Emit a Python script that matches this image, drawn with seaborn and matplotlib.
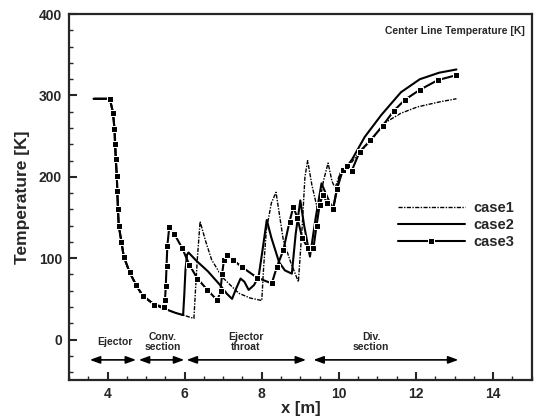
import matplotlib
matplotlib.use("Agg")
import matplotlib.pyplot as plt
import seaborn as sns
import pandas as pd

# ---------------- data ----------------
case1_x = [3.64, 4.06, 4.14, 4.18, 4.20, 4.22, 4.25, 4.27, 4.29, 4.36, 4.42, 4.57, 4.74, 4.91, 5.21, 5.47,
           5.75, 5.97, 6.10, 6.24, 6.28, 6.33, 6.40, 6.55, 6.70, 6.97, 7.40, 7.70, 8.00, 8.05, 8.12, 8.25,
           8.37, 8.56, 8.75, 8.95, 9.05, 9.12, 9.19, 9.30, 9.46, 9.60, 9.72, 9.82, 9.90, 10.00, 10.10,
           10.20, 10.50, 10.84, 11.18, 11.60, 12.04, 12.60, 13.05]
case1_y = [296, 296, 279, 259, 240, 220, 190, 160, 140, 120, 102, 83, 67, 54, 43, 38,
           33, 30, 28, 26, 60, 100, 145, 120, 98, 77, 57, 51, 48, 90, 135, 168,
           181, 122, 95, 71, 140, 200, 220, 190, 157, 195, 217, 195, 186, 200, 212,
           210, 228, 245, 266, 278, 286, 292, 296]

case2_x = [3.64, 4.06, 4.14, 4.18, 4.20, 4.22, 4.25, 4.27, 4.29, 4.36, 4.42, 4.57, 4.74, 4.91, 5.21, 5.47,
           5.75, 5.96, 5.99, 6.02, 6.06, 6.10, 6.30, 6.60, 6.90, 7.10, 7.23, 7.33, 7.45, 7.55, 7.66, 7.80,
           7.92, 8.02, 8.13, 8.25, 8.45, 8.60, 8.78, 8.88, 9.00, 9.10, 9.25, 9.40, 9.55, 9.70, 9.85, 9.95,
           10.05, 10.20, 10.35, 10.67, 11.10, 11.61, 12.10, 12.60, 13.05]
case2_y = [296, 296, 279, 259, 240, 220, 190, 160, 140, 120, 102, 83, 67, 54, 43, 38,
           33, 30, 55, 85, 104, 107, 97, 84, 68, 56, 50, 62, 75, 71, 61, 67,
           78, 110, 147, 125, 95, 85, 81, 130, 171, 140, 102, 150, 192, 175, 160, 185,
           205, 212, 222, 249, 276, 304, 320, 328, 332]

case3_x = [3.64, 4.06, 4.14, 4.18, 4.19, 4.21, 4.24, 4.25, 4.27, 4.29, 4.36, 4.42, 4.57, 4.74, 4.91, 5.21,
           5.47, 5.49, 5.51, 5.53, 5.55, 5.60, 5.73, 5.94, 6.12, 6.33, 6.59, 6.85, 6.93, 6.97, 7.02, 7.10,
           7.25, 7.49, 7.88, 8.26, 8.39, 8.56, 8.72, 8.82, 8.92, 9.05, 9.20, 9.34, 9.42, 9.50, 9.58, 9.70,
           9.85, 9.95, 10.10, 10.20, 10.33, 10.54, 10.82, 11.14, 11.42, 11.72, 12.10, 12.57, 13.05]
case3_y = [296, 296, 279, 259, 240, 222, 201, 183, 160, 140, 120, 102, 83, 67, 54, 43,
           40, 48, 66, 90, 115, 138, 130, 112, 92, 75, 61, 48, 60, 80, 98, 104,
           98, 89, 76, 69, 89, 110, 145, 163, 150, 125, 112, 112, 140, 165, 178, 168,
           161, 185, 208, 213, 207, 231, 245, 263, 281, 295, 307, 319, 325]

case_labels = ["case1", "case2", "case3"]

section_labels = ["Ejector", "Conv.\nsection", "Ejector\nthroat", "Div.\nsection"]
section_start = [3.54, 4.81, 6.05, 9.34]
section_end = [4.74, 5.99, 9.15, 13.10]
section_text_x = [4.18, 5.42, 7.58, 10.84]

# ---------------- figure ----------------
sns.set_style("ticks")
plt.rcParams["font.family"] = ["Liberation Sans", "DejaVu Sans"]
plt.rcParams["font.weight"] = "bold"

fig = plt.figure(figsize=(5.37, 4.16), dpi=100)
ax = fig.add_axes([0.1285, 0.086, 0.8615, 0.880])

df1 = pd.DataFrame({"x": case1_x, "T": case1_y})
df2 = pd.DataFrame({"x": case2_x, "T": case2_y})
df3 = pd.DataFrame({"x": case3_x, "T": case3_y})

sns.lineplot(data=df1, x="x", y="T", ax=ax, color="black", lw=1.0,
             linestyle=(0, (3, 1, 1, 1)), estimator=None, sort=False, label=case_labels[0])
sns.lineplot(data=df2, x="x", y="T", ax=ax, color="black", lw=1.5,
             estimator=None, sort=False, label=case_labels[1])
sns.lineplot(data=df3, x="x", y="T", ax=ax, color="black", lw=1.5, marker="s",
             markersize=3.8, markevery=list(range(1, len(case3_x))),
             estimator=None, sort=False, label=case_labels[2])

ax.set_xlim(3, 15)
ax.set_ylim(-50, 400)
ax.set_xticks([4, 6, 8, 10, 12, 14])
ax.set_yticks([0, 100, 200, 300, 400])
ax.set_xticks([x / 2 for x in range(6, 31)], minor=True)
ax.set_yticks(list(range(-40, 401, 20)), minor=True)
ax.tick_params(which="major", direction="in", length=6, width=1.5, labelsize=10, pad=5)
ax.tick_params(which="minor", direction="in", length=3, width=1.0)
for lab in ax.get_xticklabels() + ax.get_yticklabels():
    lab.set_fontweight("bold")
for s in ax.spines.values():
    s.set_linewidth(1.6)

ax.set_xlabel("x [m]", fontsize=12, fontweight="bold", labelpad=0)
ax.set_ylabel("Temperature [K]", fontsize=12.5, fontweight="bold", labelpad=6)

ax.text(0.985, 0.955, "Center Line Temperature [K]", transform=ax.transAxes,
        ha="right", va="center", fontsize=7.5, fontweight="bold")

handles, labels = ax.get_legend_handles_labels()
leg = ax.legend(handles, labels, loc="center left", bbox_to_anchor=(0.711, 0.423),
                frameon=False, fontsize=10.5, handlelength=4.6, handletextpad=0.6,
                labelspacing=0.2, borderpad=0, borderaxespad=0)
for t in leg.get_texts():
    t.set_fontweight("bold")

for lab, x0, x1, tx in zip(section_labels, section_start, section_end, section_text_x):
    ax.annotate("", xy=(x1, -25), xytext=(x0, -25),
                arrowprops=dict(arrowstyle="<|-|>,head_length=0.6,head_width=0.22",
                                color="black", lw=1.2, shrinkA=0, shrinkB=0))
    ax.text(tx, -3, lab, ha="center", va="center", fontsize=7.5, fontweight="bold",
            linespacing=1.0)

fig.savefig("out.png", dpi=100)
